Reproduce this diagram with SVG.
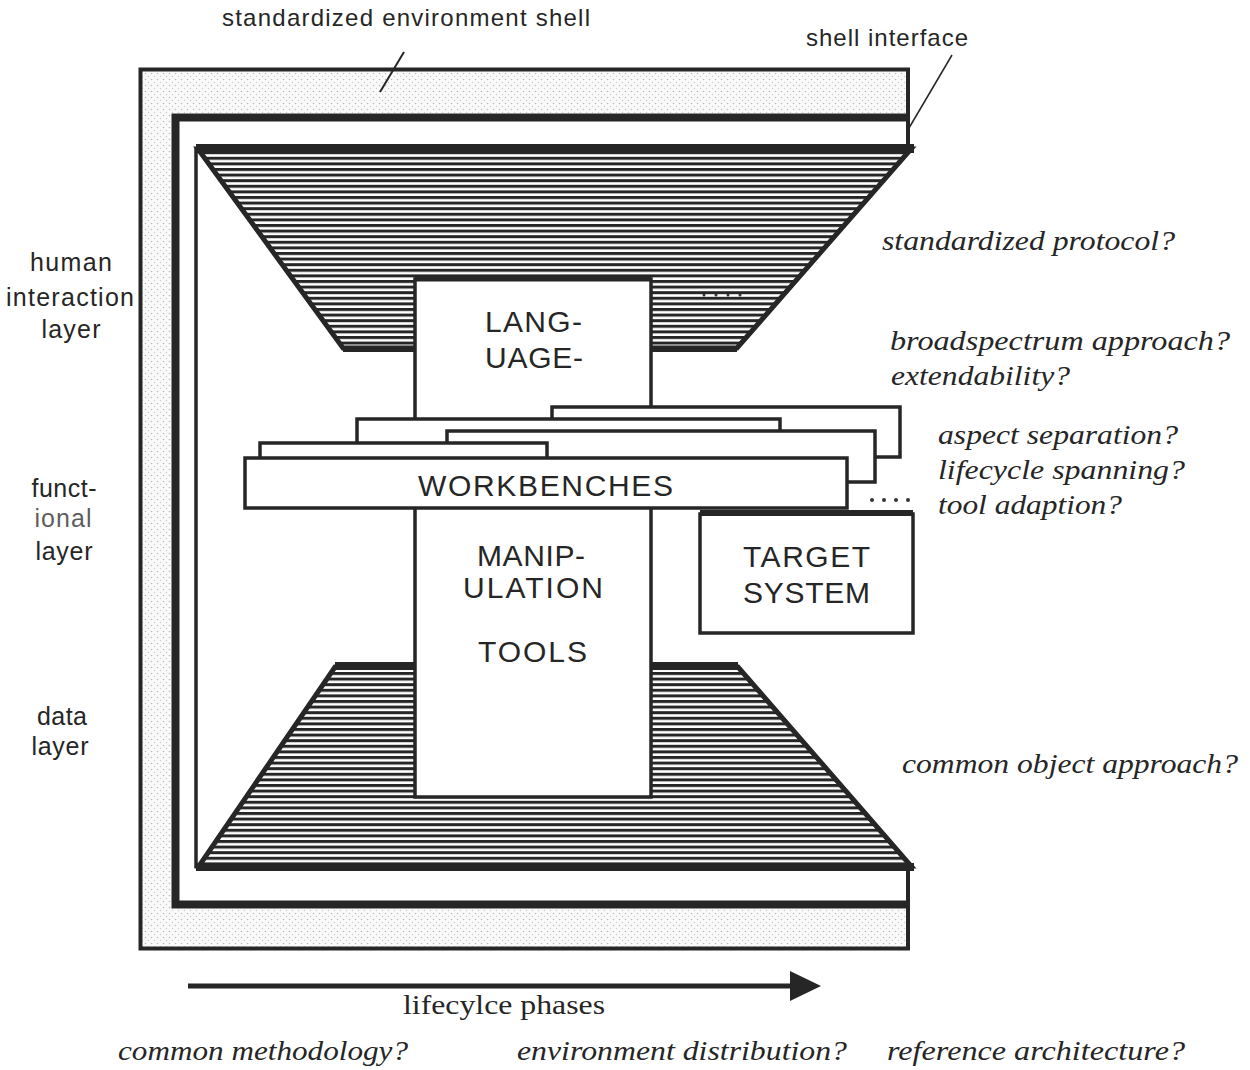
<svg xmlns="http://www.w3.org/2000/svg" width="1250" height="1070" viewBox="0 0 1250 1070">
<defs>
<pattern id="hatch" width="8" height="5.6" patternUnits="userSpaceOnUse"><rect width="8" height="3" fill="#262626"/></pattern>
<pattern id="stip" width="6" height="6" patternUnits="userSpaceOnUse"><rect width="6" height="6" fill="#fafafa"/><circle cx="1.5" cy="1.5" r="0.8" fill="#bbb"/><circle cx="4.5" cy="4.5" r="0.7" fill="#ccc"/></pattern>
<style>
.ln{stroke:#262626;fill:none}
.box{stroke:#262626;fill:#fff;stroke-width:3.5}
.sans{font-family:"Liberation Sans",Arial,sans-serif;fill:#262626}
.big{font-size:30px}
.lbl{font-size:25px}
.top{font-size:24px}
.ital{font-family:"Liberation Serif","Times New Roman",serif;font-style:italic;font-size:27px;fill:#262626}
.serif{font-family:"Liberation Serif","Times New Roman",serif;font-size:28px;fill:#262626}
.dot{fill:#333}
</style>
</defs>
<rect width="1250" height="1070" fill="#fff"/>

<g id="shell">
<rect x="140" y="69" width="768" height="880" fill="url(#stip)"/>
<rect x="172" y="113" width="736" height="796" fill="#fff"/>
<path class="ln" stroke-width="4" d="M908,146 V69.5 H140.5 V948.5 H908 V868"/>
<path class="ln" stroke-width="8" d="M908,117.5 H175.5 V904.5 H908"/>
<line class="ln" stroke-width="3.5" x1="196" y1="147" x2="196" y2="868"/>
</g>

<g id="human-interaction-layer">
<polygon points="198,149 911,149 737,348 343,348" fill="url(#hatch)" stroke="#262626" stroke-width="5"/>
<rect x="196" y="144" width="718" height="9" fill="#262626"/>
<line class="ln" stroke-width="6" x1="343" y1="349" x2="737" y2="349"/>
</g>

<g id="data-layer">
<polygon points="335,667 738,667 911,866 199,866" fill="url(#hatch)" stroke="#262626" stroke-width="5"/>
<line class="ln" stroke-width="8" x1="335" y1="666" x2="738" y2="666"/>
<line class="ln" stroke-width="8" x1="196" y1="867" x2="914" y2="867"/>
</g>

<g id="language-manipulation-tools">
<rect class="box" x="415" y="279" width="236" height="518"/>
<line class="ln" stroke-width="5" x1="415" y1="279" x2="651" y2="279"/>
<text class="sans big" x="485" y="332" textLength="97">LANG-</text>
<text class="sans big" x="485" y="368" textLength="98">UAGE-</text>
<text class="sans big" x="477" y="566" textLength="108">MANIP-</text>
<text class="sans big" x="463" y="598" textLength="140">ULATION</text>
<text class="sans big" x="478" y="662" textLength="109">TOOLS</text>
</g>
<g id="dots-upper">
<circle class="dot" cx="704" cy="295" r="1.5"/><circle class="dot" cx="716" cy="295" r="1.5"/><circle class="dot" cx="728" cy="295" r="1.5"/><circle class="dot" cx="740" cy="295" r="1.5"/>
</g>

<g id="workbench-stack">
<rect class="box" x="552" y="407" width="348" height="50"/>
<rect class="box" x="357" y="419" width="423" height="40"/>
<rect class="box" x="447" y="431" width="428" height="51"/>
<rect class="box" x="260" y="443" width="287" height="20"/>
</g>
<g id="workbenches">
<rect class="box" x="245" y="458" width="602" height="50"/>
<text class="sans big" x="418" y="496" textLength="255">WORKBENCHES</text>
</g>
<g id="dots-wb">
<circle class="dot" cx="872" cy="500" r="2"/><circle class="dot" cx="884" cy="500" r="2"/><circle class="dot" cx="896" cy="500" r="2"/><circle class="dot" cx="908" cy="500" r="2"/>
</g>

<g id="target-system">
<rect class="box" x="700" y="514" width="213" height="119" stroke-width="4"/>
<line class="ln" stroke-width="6" x1="700" y1="513" x2="913" y2="513"/>
<text class="sans big" x="743" y="567" textLength="127">TARGET</text>
<text class="sans big" x="743" y="603" textLength="127">SYSTEM</text>
</g>

<g id="connectors">
<line class="ln" stroke-width="2" x1="404" y1="52" x2="380" y2="92"/>
<line class="ln" stroke-width="1.5" x1="952" y1="55" x2="909" y2="128"/>
<line class="ln" stroke-width="5" x1="188" y1="986" x2="795" y2="986"/>
<polygon points="790,971 821,986 790,1001" fill="#262626"/>
</g>

<g id="labels">
<text class="sans top" x="222" y="26" textLength="368">standardized environment shell</text>
<text class="sans top" x="806" y="46" textLength="162">shell interface</text>

<text class="sans lbl" x="71" y="271" text-anchor="middle" textLength="82">human</text>
<text class="sans lbl" x="70" y="306" text-anchor="middle" textLength="128">interaction</text>
<text class="sans lbl" x="71" y="338" text-anchor="middle" textLength="59">layer</text>
<text class="sans lbl" x="64" y="497" text-anchor="middle" textLength="65">funct-</text>
<text class="sans lbl" x="63" y="527" text-anchor="middle" textLength="57" fill-opacity="0.75">ional</text>
<text class="sans lbl" x="64" y="560" text-anchor="middle" textLength="57">layer</text>
<text class="sans lbl" x="62" y="725" text-anchor="middle" textLength="50">data</text>
<text class="sans lbl" x="60" y="755" text-anchor="middle" textLength="57">layer</text>

<text class="ital" x="882" y="250" textLength="293" lengthAdjust="spacingAndGlyphs">standardized protocol?</text>
<text class="ital" x="890" y="350" textLength="340" lengthAdjust="spacingAndGlyphs">broadspectrum approach?</text>
<text class="ital" x="891" y="385" textLength="179" lengthAdjust="spacingAndGlyphs">extendability?</text>
<text class="ital" x="938" y="444" textLength="240" lengthAdjust="spacingAndGlyphs">aspect separation?</text>
<text class="ital" x="938" y="479" textLength="247" lengthAdjust="spacingAndGlyphs">lifecycle spanning?</text>
<text class="ital" x="938" y="514" textLength="184" lengthAdjust="spacingAndGlyphs">tool adaption?</text>
<text class="ital" x="902" y="773" textLength="336" lengthAdjust="spacingAndGlyphs">common object approach?</text>

<text class="serif" x="403" y="1014" textLength="202" lengthAdjust="spacingAndGlyphs">lifecylce phases</text>
<text class="ital" x="118" y="1060" textLength="290" lengthAdjust="spacingAndGlyphs">common methodology?</text>
<text class="ital" x="517" y="1060" textLength="330" lengthAdjust="spacingAndGlyphs">environment distribution?</text>
<text class="ital" x="887" y="1060" textLength="298" lengthAdjust="spacingAndGlyphs">reference architecture?</text>
</g>
</svg>
